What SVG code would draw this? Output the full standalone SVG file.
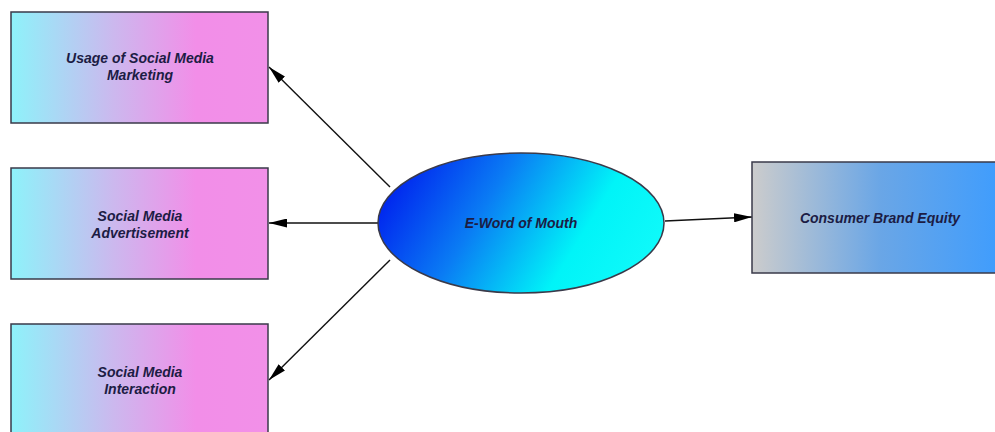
<svg xmlns="http://www.w3.org/2000/svg" width="995" height="432" viewBox="0 0 995 432">
<defs>
<linearGradient id="gPink" x1="0" y1="0" x2="1" y2="0">
<stop offset="0" stop-color="#8ef2fa"/>
<stop offset="0.4" stop-color="#ccb8ee"/>
<stop offset="0.72" stop-color="#f28ee8"/>
<stop offset="1" stop-color="#f290e8"/>
</linearGradient>
<linearGradient id="gBlue" x1="0" y1="0.35" x2="1" y2="0.65">
<stop offset="0" stop-color="#0022ee"/>
<stop offset="0.35" stop-color="#0a7cf4"/>
<stop offset="0.72" stop-color="#00f4f8"/>
<stop offset="1" stop-color="#10fafa"/>
</linearGradient>
<linearGradient id="gGray" x1="0" y1="0" x2="1" y2="0">
<stop offset="0" stop-color="#cccccc"/>
<stop offset="0.5" stop-color="#6aa6e6"/>
<stop offset="1" stop-color="#3c9cff"/>
</linearGradient>
<marker id="arrB" viewBox="0 0 10 10" refX="10" refY="5" markerWidth="18" markerHeight="9" markerUnits="userSpaceOnUse" orient="auto" preserveAspectRatio="none">
<path d="M0,0 L10,5 L0,10 Z" fill="#000"/>
</marker>
</defs>
<style>
.box{stroke:#3a3a4a;stroke-width:1.5}
.lbl{font-family:"Liberation Sans",Arial,sans-serif;font-size:14px;font-weight:bold;font-style:italic;fill:#1c1c44;text-anchor:middle}
.conn{stroke:#111;stroke-width:1.4;fill:none}
</style>
<rect width="995" height="432" fill="#fff"/>
<g id="connectors">
<line class="conn" x1="390" y1="187" x2="269" y2="67" marker-end="url(#arrB)"/>
<line class="conn" x1="378" y1="223" x2="269" y2="223" marker-end="url(#arrB)"/>
<line class="conn" x1="390" y1="260" x2="269" y2="380" marker-end="url(#arrB)"/>
<line class="conn" x1="665" y1="221" x2="752" y2="217" marker-end="url(#arrB)"/>
</g>
<g id="usage">
<rect class="box" x="11" y="12" width="257" height="111" fill="url(#gPink)"/>
<text class="lbl" x="140" y="63">Usage of Social Media</text>
<text class="lbl" x="140" y="80">Marketing</text>
</g>
<g id="advert">
<rect class="box" x="11" y="168" width="257" height="111" fill="url(#gPink)"/>
<text class="lbl" x="140" y="221">Social Media</text>
<text class="lbl" x="140" y="238">Advertisement</text>
</g>
<g id="interaction">
<rect class="box" x="11" y="324" width="257" height="112" fill="url(#gPink)"/>
<text class="lbl" x="140" y="377">Social Media</text>
<text class="lbl" x="140" y="394">Interaction</text>
</g>
<g id="ewom">
<ellipse class="box" cx="521" cy="223" rx="143" ry="70" fill="url(#gBlue)"/>
<text class="lbl" x="521" y="228">E-Word of Mouth</text>
</g>
<g id="cbe">
<rect class="box" x="752" y="162" width="256" height="111" fill="url(#gGray)"/>
<text class="lbl" x="880" y="223">Consumer Brand Equity</text>
</g>
</svg>
